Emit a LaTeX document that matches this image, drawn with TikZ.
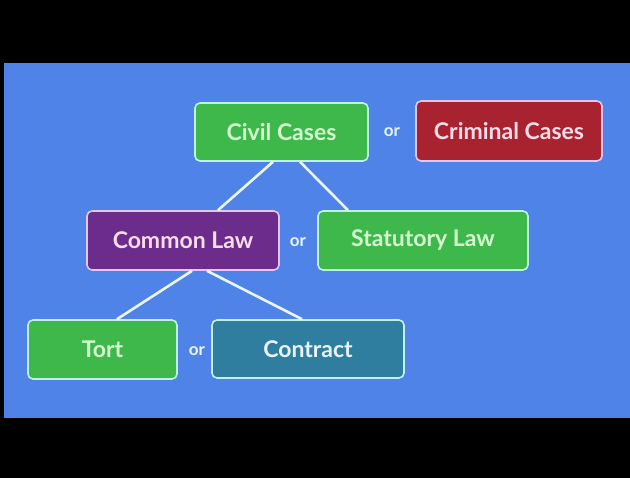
\documentclass[tikz,border=0pt]{standalone}
\usepackage{fontspec}
\setmainfont{Lato}
\definecolor{bgblue}{HTML}{5083E8}
\definecolor{boxgreen}{HTML}{3EB84B}
\definecolor{boxred}{HTML}{A8232F}
\definecolor{boxpurple}{HTML}{6B2C8C}
\definecolor{boxteal}{HTML}{2F7EA0}
\definecolor{edgecyan}{HTML}{BDF2E4}
\definecolor{edgepink}{HTML}{E6C4EE}
\definecolor{txtgreen}{HTML}{D6FAD0}
\definecolor{txtpink}{HTML}{F8DDE8}
\definecolor{txtwhite}{HTML}{EAF4F8}
\definecolor{linecol}{HTML}{EAF6FA}
\tikzset{
  box/.style={draw, line width=1.6pt, rounded corners=5pt, inner sep=0pt,
              font=\fontsize{23}{26}\selectfont\bfseries},
  greenbox/.style={box, fill=boxgreen, draw=edgecyan, text=txtgreen},
  redbox/.style={box, fill=boxred, draw=edgepink, text=txtpink},
  purplebox/.style={box, fill=boxpurple, draw=edgepink, text=txtpink},
  tealbox/.style={box, fill=boxteal, draw=edgecyan, text=txtwhite},
  orlabel/.style={text=txtwhite, font=\fontsize{17}{19}\selectfont\bfseries, inner sep=0pt},
  link/.style={draw=linecol, line width=2.6pt}
}
\begin{document}
\begin{tikzpicture}[x=1pt,y=-1pt]
\fill[black] (0,0) rectangle (630,478);
\useasboundingbox (0,0) rectangle (630,478);
\fill[bgblue] (4,63) rectangle (630,418);
% boxes: centre, width, height
\node[greenbox, minimum width=173pt, minimum height=58pt] (civil) at (281.5,132) {Civil Cases};
\node[redbox, minimum width=186pt, minimum height=60pt] (criminal) at (509,131) {Criminal Cases};
\node[orlabel] (or1) at (392,132) {or};
\node[purplebox, minimum width=192pt, minimum height=59pt] (common) at (183,240.5) {Common Law};
\node[greenbox, minimum width=210pt, minimum height=59pt] (statutory) at (423,240.5) {Statutory Law};
\node[orlabel] (or2) at (298,242) {or};
\node[greenbox, minimum width=149pt, minimum height=59pt] (tort) at (102.5,349.5) {Tort};
\node[tealbox, minimum width=192pt, minimum height=58pt] (contract) at (308,349) {Contract};
\node[orlabel] (or3) at (197,351) {or};
% connectors
\draw[link] (civil.south) ++(-8.5,0) coordinate (c1) -- (common.north -| 218,0) coordinate (c2);
\draw[link] (civil.south) ++(18.5,0) coordinate (c3) -- (statutory.north -| 348,0) coordinate (c4);
\draw[link] (common.south) ++(9,0) coordinate (c5) -- (tort.north -| 117,0) coordinate (c6);
\draw[link] (common.south) ++(24,0) coordinate (c7) -- (contract.north -| 302,0) coordinate (c8);
\end{tikzpicture}
\end{document}
